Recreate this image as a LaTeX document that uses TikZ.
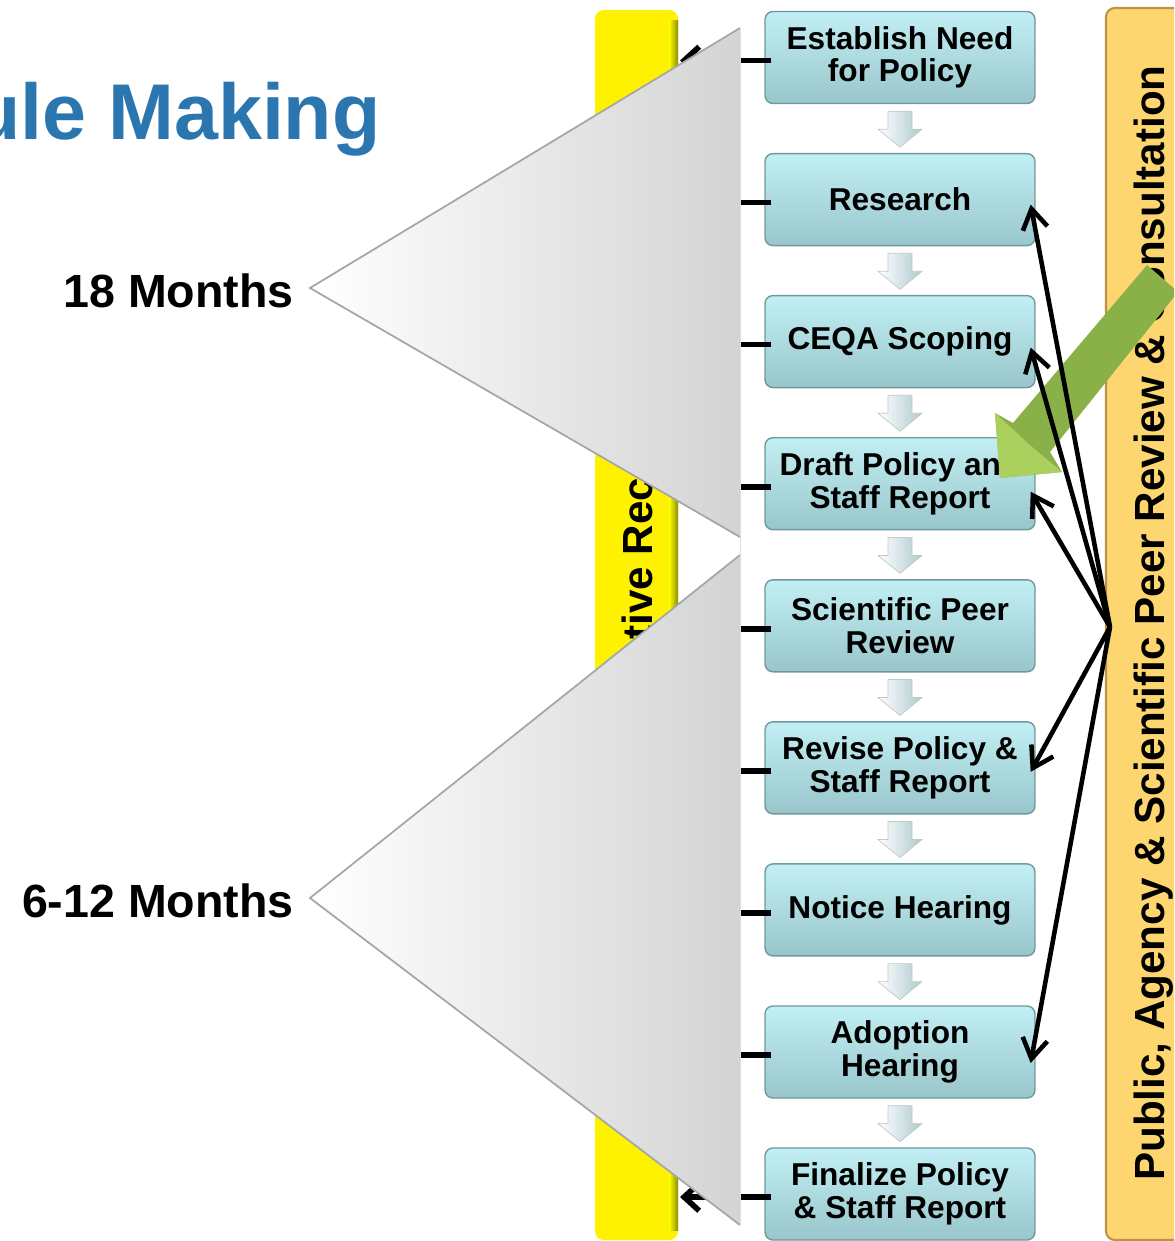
\documentclass[tikz,border=0pt]{standalone}
\usepackage{fontspec}
\setmainfont{Liberation Sans}
\usepackage{xcolor}
\usepackage{tikz}
\usetikzlibrary{calc}
\usetikzlibrary{arrows.meta}

\definecolor{titleblue}{RGB}{44,118,175}
\definecolor{boxtop}{RGB}{194,239,244}
\definecolor{boxbot}{RGB}{152,198,202}
\definecolor{boxline}{RGB}{112,152,157}
\definecolor{barorange}{RGB}{254,214,112}
\definecolor{baredge}{RGB}{190,146,72}
\definecolor{barolive}{RGB}{140,140,0}
\definecolor{leafgreen}{RGB}{138,176,72}
\definecolor{leaflight}{RGB}{172,208,94}
\definecolor{arrgrey}{RGB}{172,202,207}

\tikzset{
	stepbox/.style={rectangle,rounded corners=4.5pt,minimum width=5.4cm,minimum height=1.84cm,
		top color=boxtop,bottom color=boxbot,draw=boxline,line width=0.8pt,
		align=center,inner sep=0pt,font=\fontsize{18}{18.5}\selectfont\bfseries},
	months/.style={anchor=base east,inner sep=0pt,font=\fontsize{26.5}{28}\selectfont\bfseries},
	bartext/.style={rotate=90,inner sep=0pt,font=\fontsize{24}{26}\selectfont\bfseries},
	downarr/.style={left color=white,right color=arrgrey,draw=gray!45,line width=0.4pt},
	barlink/.style={line width=3.2pt,-{Straight Barb[length=3mm,width=5.5mm]}},
	hublink/.style={line width=2.6pt,-{Straight Barb[length=4mm,width=5mm]}},
	wedge/.style={left color=white,right color=black!17},
	wedgeedge/.style={draw=gray!70,line width=1pt}
}

\begin{document}
\begin{tikzpicture}[x=0.02cm,y=-0.02cm]
		\useasboundingbox (0,0) rectangle (1174,1241);
		\clip (0,0) rectangle (1174,1241);
		% title and time spans
		\node[anchor=base east,inner sep=0pt,text=titleblue,font=\fontsize{45}{50}\selectfont\bfseries] (title) at (381,139) {ule Making};
		\node[months] (m18) at (294,307) {18 Months};
		\node[months] (m612) at (294,917) {6-12 Months};
		% left bar
		\fill[yellow,rounded corners=5pt] (595,10) rectangle (678,1240);
		\shade[left color=yellow,right color=barolive] (669,20) rectangle (678,1230);
		\node[bartext] (adm) at (637,635) {Administrative Record};
		\coordinate (yb) at (680,0);
		% steps
		\node[stepbox] (need) at (900,57.5) {Establish Need\\for Policy};
		\node[stepbox] (rsch) at (900,199.6) {Research};
		\node[stepbox] (ceqa) at (900,341.6) {CEQA Scoping};
		\node[stepbox] (draft) at (900,483.7) {Draft Policy and\\Staff Report};
		\node[stepbox] (peer) at (900,625.8) {Scientific Peer\\Review};
		\node[stepbox] (rev) at (900,767.8) {Revise Policy \&\\Staff Report};
		\node[stepbox] (notice) at (900,909.9) {Notice Hearing};
		\node[stepbox] (adopt) at (900,1052) {Adoption\\Hearing};
		\node[stepbox] (final) at (900,1194) {Finalize Policy\\\& Staff Report};
		\foreach \a in {need,rsch,ceqa,draft,peer,rev,notice,adopt}
			\shade[downarr] ($(\a.south)+(-12,7)$) -- ++(24,0) -- ++(0,18) -- ++(10,0) -- ++(-22,18) -- ++(-22,-18) -- ++(10,0) -- cycle;
		% links to the left bar
		\foreach \s in {need,rsch,ceqa,draft,peer,rev,notice,adopt,final}
			\draw[barlink] ($(\s.west)+(7,3)$) -- ($(\s.west -| yb)+(0,3)$);
		% time span wedges
		\shade[wedge] (310,288) -- (740,28) -- (740,537) -- cycle;
		\draw[wedgeedge] (740,28) -- (310,288) -- (740,537);
		\shade[wedge] (310,898) -- (740,555) -- (740,1225) -- cycle;
		\draw[wedgeedge] (740,555) -- (310,898) -- (740,1225);
		\draw[gray!25] (740,28) -- (740,1225);
		% right bar
		\filldraw[fill=barorange,draw=baredge,line width=1.2pt,rounded corners=5pt] (1106,8) rectangle (1200,1240);
		\node[bartext] (pub) at (1154,623) {Public, Agency \& Scientific Peer Review \& Consultation};
		\coordinate (hub) at (1110,627);
		% green arrow
		\fill[leafgreen] (1147,265) -- (1013,423) -- (995,413) -- (1000,478) -- (1062,472) -- (1050,452) -- (1178,292) -- cycle;
		\fill[leaflight] (995,413) -- (1000,478) -- (1062,472) -- (1031,446) -- cycle;
		% review links
		\draw[hublink] (hub) -- ($(rsch.east)+(-5,5)$);
		\draw[hublink] (hub) -- ($(ceqa.east)+(-5,6)$);
		\draw[hublink] (hub) -- ($(draft.east)+(-5,8)$);
		\draw[hublink] (hub) -- ($(rev.east)+(-5,4)$);
		\draw[hublink] (hub) -- ($(adopt.east)+(-5,11)$);
	\end{tikzpicture}
\end{document}
